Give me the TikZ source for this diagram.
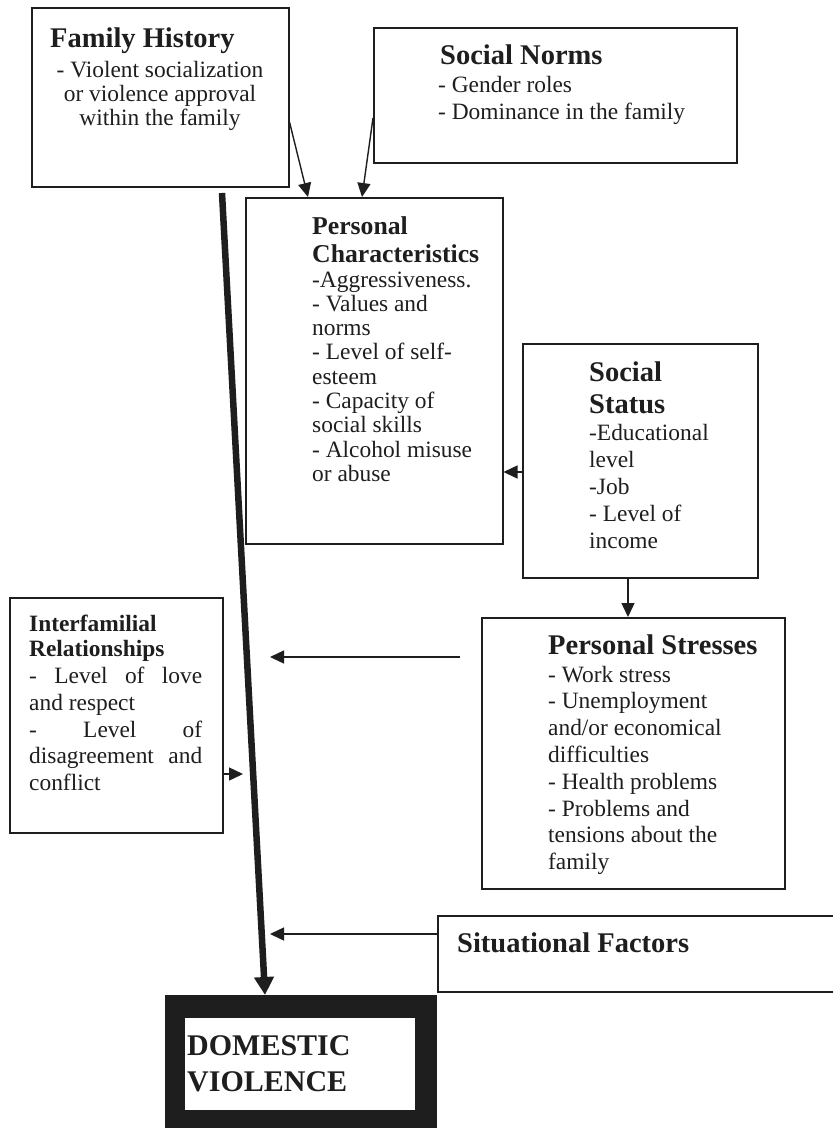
\documentclass[tikz,border=0pt]{standalone}
\usepackage{fontspec}
\setmainfont{Liberation Serif}
\usetikzlibrary{arrows.meta,calc}
\definecolor{ink}{HTML}{1E1E1E}
\tikzset{
  box/.style={draw=ink, line width=1.5pt, inner sep=0pt, anchor=north west, fill=white},
  ttl/.style={font=\fontsize{28.5}{30}\selectfont\bfseries, text=ink, anchor=base west, inner sep=0pt},
  ttlsmall/.style={font=\fontsize{25.7}{28}\selectfont\bfseries, text=ink, anchor=base west, inner sep=0pt},
  ttlir/.style={font=\fontsize{23.4}{26}\selectfont\bfseries, text=ink, anchor=base west, inner sep=0pt},
  ttldv/.style={font=\fontsize{30}{32}\selectfont\bfseries, text=ink, anchor=base west, inner sep=0pt},
  bodytxt/.style={font=\fontsize{23.4}{26}\selectfont, text=ink, anchor=base west, inner sep=0pt},
  arr/.style={draw=ink, line width=1.4pt, -{Triangle[length=14pt,width=13pt]}},
  thickarr/.style={draw=ink, line width=6.5pt, -{Triangle[length=18pt,width=19pt]}}
}
\begin{document}
\begin{tikzpicture}[x=1pt,y=-1pt]
\useasboundingbox (0,0) rectangle (833,1128);
\clip (0,0) rectangle (833,1128);
\fill[white] (0,0) rectangle (833,1128);

% boxes
\node[box, minimum width=257pt, minimum height=179pt] (fh) at (31,7) {};
\node[box, minimum width=363pt, minimum height=135pt] (sn) at (373,27) {};
\node[box, minimum width=257pt, minimum height=346pt] (pc) at (245,197) {};
\node[box, minimum width=235pt, minimum height=234pt] (ss) at (522,343) {};
\node[box, minimum width=303pt, minimum height=271pt] (ps) at (481,617) {};
\node[box, minimum width=213pt, minimum height=235pt] (ir) at (9,597) {};
\node[box, minimum width=420pt, minimum height=76pt] (sf) at (437,915) {};
\node[anchor=north west, fill=ink, inner sep=0pt, minimum width=272pt, minimum height=160pt] (dvout) at (165,995) {};
\node[anchor=north west, fill=white, inner sep=0pt, minimum width=230pt, minimum height=92pt] (dvin) at (185,1018) {};

% Family History
\node[ttl] (fh1) at (50,47) {Family History};
\node[bodytxt, anchor=base] (fh2) at (160,77) {- Violent socialization};
\node[bodytxt, anchor=base] (fh3) at (160,101) {or violence approval};
\node[bodytxt, anchor=base] (fh4) at (160,125) {within the family};

% Social Norms
\node[ttl] (sn1) at (440,64) {Social Norms};
\node[bodytxt] (sn2) at (438,92) {- Gender roles};
\node[bodytxt] (sn3) at (438,119) {- Dominance in the family};

% Personal Characteristics
\node[ttlsmall] (pc1) at (312,234) {Personal};
\node[ttlsmall] (pc2) at (312,262) {Characteristics};
\node[bodytxt] (pc3) at (312,287) {-Aggressiveness.};
\node[bodytxt] (pc4) at (312,311.3) {- Values and};
\node[bodytxt] (pc5) at (312,335.6) {norms};
\node[bodytxt] (pc6) at (312,359.9) {- Level of self-};
\node[bodytxt] (pc7) at (312,384.2) {esteem};
\node[bodytxt] (pc8) at (312,408.5) {- Capacity of};
\node[bodytxt] (pc9) at (312,432.8) {social skills};
\node[bodytxt] (pc10) at (312,457.1) {- Alcohol misuse};
\node[bodytxt] (pc11) at (312,481.4) {or abuse};

% Social Status
\node[ttl] (ss1) at (589,381) {Social};
\node[ttl] (ss2) at (589,413) {Status};
\node[bodytxt] (ss3) at (589,440) {-Educational};
\node[bodytxt] (ss4) at (589,467) {level};
\node[bodytxt] (ss5) at (589,494) {-Job};
\node[bodytxt] (ss6) at (589,521) {- Level of};
\node[bodytxt] (ss7) at (589,548) {income};

% Personal Stresses
\node[ttl] (ps1) at (548,654) {Personal Stresses};
\node[bodytxt] (ps2) at (548,682) {- Work stress};
\node[bodytxt] (ps3) at (548,708.8) {- Unemployment};
\node[bodytxt] (ps4) at (548,735.6) {and/or economical};
\node[bodytxt] (ps5) at (548,762.4) {difficulties};
\node[bodytxt] (ps6) at (548,789.2) {- Health problems};
\node[bodytxt] (ps7) at (548,816) {- Problems and};
\node[bodytxt] (ps8) at (548,842.8) {tensions about the};
\node[bodytxt] (ps9) at (548,869.6) {family};

% Interfamilial Relationships
\node[ttlir] (ir1) at (29,631) {Interfamilial};
\node[ttlir] (ir2) at (29,656) {Relationships};
\node[bodytxt] (ir3) at (29,683) {\makebox[173pt][s]{- Level of love}};
\node[bodytxt] (ir4) at (29,710) {and respect};
\node[bodytxt] (ir5) at (29,737) {\makebox[173pt][s]{- Level of}};
\node[bodytxt] (ir6) at (29,763) {\makebox[173pt][s]{disagreement and}};
\node[bodytxt] (ir7) at (29,790) {conflict};

% Situational Factors
\node[ttl] (sf1) at (457,952) {Situational Factors};

% Domestic Violence
\node[ttldv] (dv1) at (187,1055) {DOMESTIC};
\node[ttldv] (dv2) at (187,1091) {VIOLENCE};

% free connector ends
\coordinate (ttop) at (222,193);
\coordinate (irtip) at (243,774);
\coordinate (psstart) at (460,657);
\coordinate (pstip) at (270,657);
\coordinate (sftip) at (270,934);

% connectors
\draw[arr] ($(fh.north east)+(0,115)$) -- ($(pc.north west)+(63,0)$);
\draw[arr] ($(sn.north west)+(0,91)$) -- ($(pc.north west)+(117,0)$);
\draw[arr] ($(ss.north west)+(0,129)$) -- ($(pc.north east)+(0,275)$);
\draw[arr] ($(ss.south west)+(106,0)$) -- ($(ps.north west)+(147,0)$);
\draw[arr] ($(ir.north east)+(0,177)$) -- (irtip);
\draw[arr] (psstart) -- (pstip);
\draw[arr] ($(sf.north west)+(0,19)$) -- (sftip);
\draw[thickarr] (ttop) -- ($(dvout.north west)+(100,0)$);
\end{tikzpicture}
\end{document}
